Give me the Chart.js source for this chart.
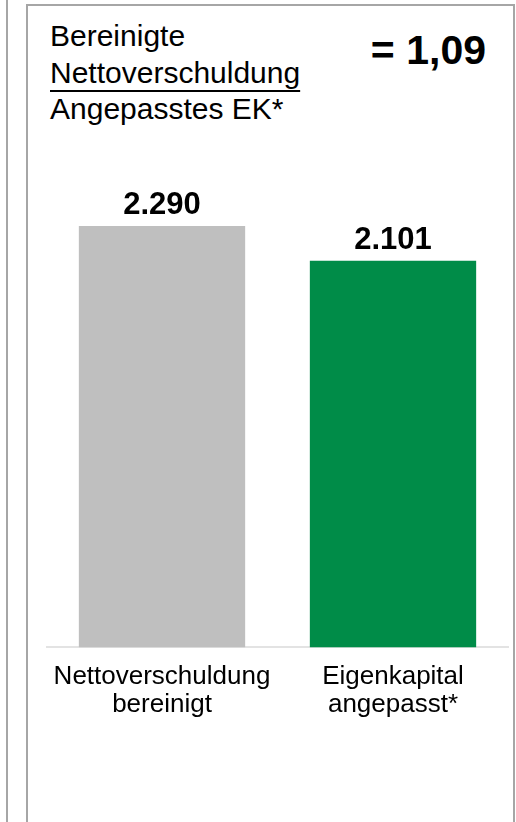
<!DOCTYPE html>
<html>
<head>
<meta charset="utf-8">
<script src="https://cdn.jsdelivr.net/npm/chart.js@4.4.1/dist/chart.umd.min.js"></script>
<style>
  html, body { margin: 0; padding: 0; background: #fff; width: 516px; height: 822px; overflow: hidden; }
  body { position: relative; font-family: "Liberation Sans", Arial, sans-serif; color: #000; }
  #leftLine { position: absolute; left: 6px; top: 0; width: 2px; height: 822px; background: #a6a6a6; }
  #box { position: absolute; left: 26px; top: 4px; width: 489px; height: 900px; box-sizing: border-box;
         border: 2px solid #a6a6a6; border-bottom: none; }
  #title { position: absolute; left: 50px; top: 18px; font-size: 30px; line-height: 36.5px; white-space: nowrap; }
  #title .u { text-decoration: underline; text-decoration-thickness: 2px; text-underline-offset: 7px; }
  #ratio { position: absolute; right: 30px; top: 30px; font-size: 41px; line-height: 40px; font-weight: bold; white-space: nowrap; }
  #chart { position: absolute; left: 28px; top: 130px; }
</style>
</head>
<body>
<div id="leftLine"></div>
<div id="box"></div>
<div id="title">Bereinigte<br><span class="u">Nettoverschuldung</span><br>Angepasstes EK*</div>
<div id="ratio">= 1,09</div>
<canvas id="chart" width="486" height="617"></canvas>
<script>
const categories = [["Nettoverschuldung", "bereinigt"], ["Eigenkapital", "angepasst*"]];
const values = [2290, 2101];
const valueLabels = ["2.290", "2.101"];
const barColors = ["#BFBFBF", "#008C48"];
const yMin = 0;
const yMax = 2600;

const valueLabelPlugin = {
  id: "valueLabels",
  afterDatasetsDraw(chart) {
    const ctx = chart.ctx;
    const meta = chart.getDatasetMeta(0);
    ctx.save();
    ctx.font = "bold 31px 'Liberation Sans', Arial, sans-serif";
    ctx.fillStyle = "#000";
    ctx.textAlign = "center";
    ctx.textBaseline = "alphabetic";
    meta.data.forEach((bar, i) => {
      ctx.fillText(valueLabels[i], bar.x, bar.y - 12);
    });
    ctx.restore();
  }
};

new Chart(document.getElementById("chart"), {
  type: "bar",
  data: {
    labels: categories,
    datasets: [{
      data: values,
      backgroundColor: barColors,
      borderWidth: 0,
      categoryPercentage: 1.0,
      barPercentage: 0.72
    }]
  },
  options: {
    responsive: false,
    animation: false,
    devicePixelRatio: 1,
    layout: { padding: { left: 18.5, right: 5.5, top: 39, bottom: 13 } },
    plugins: { legend: { display: false }, tooltip: { enabled: false } },
    scales: {
      y: { display: false, min: yMin, max: yMax },
      x: {
        grid: { display: false, drawTicks: false },
        border: { display: true, color: "#e3e3e3", width: 2 },
        ticks: {
          color: "#000",
          padding: 16,
          maxRotation: 0,
          autoSkip: false,
          font: { family: "'Liberation Sans', Arial, sans-serif", size: 26, lineHeight: 1.05 }
        }
      }
    }
  },
  plugins: [valueLabelPlugin]
});
</script>
</body>
</html>
